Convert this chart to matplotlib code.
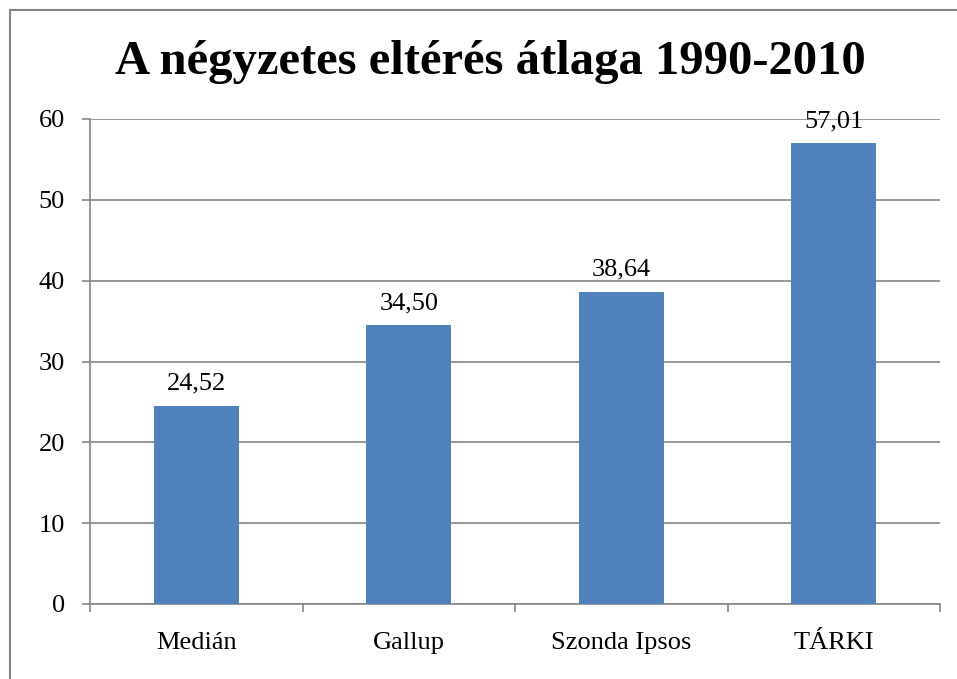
import matplotlib
matplotlib.use("Agg")
import matplotlib.pyplot as plt
from matplotlib.patches import Rectangle

categories = ["Medián", "Gallup", "Szonda Ipsos", "TÁRKI"]
values = [24.52, 34.50, 38.64, 57.01]
value_labels = ["24,52", "34,50", "38,64", "57,01"]
yticks = [0, 10, 20, 30, 40, 50, 60]

plt.rcParams['font.family'] = ['Liberation Serif', 'DejaVu Serif']

fig = plt.figure(figsize=(9.57, 6.79), dpi=100)
ax = fig.add_axes([90/957, 1-604/679, 850/957, 485/679])

x = list(range(len(categories)))
ax.bar(x, values, width=0.4, color="#4F81BD", zorder=3)
ax.set_xlim(-0.5, len(categories)-0.5)
ax.set_ylim(0, 60)
ax.set_yticks(yticks)
ax.set_yticklabels([str(t) for t in yticks], fontsize=19)
ax.set_xticks(x)
ax.set_xticklabels(categories, fontsize=19)
ax.tick_params(axis='x', length=0, pad=20)
ax.set_xticks([i - 0.5 for i in range(len(categories)+1)], minor=True)
ax.tick_params(axis='x', which='minor', length=6, color="#868686", width=1.2, direction='out')
ax.tick_params(axis='y', length=6, color="#868686", width=1.2, pad=12)
ax.grid(axis='y', color="#868686", linewidth=1.2, zorder=0)
for s in ['top', 'right']:
    ax.spines[s].set_visible(False)
for s in ['left', 'bottom']:
    ax.spines[s].set_color("#868686")
    ax.spines[s].set_linewidth(1.2)

for xi, v, lab in zip(x, values, value_labels):
    ax.annotate(lab, (xi, v), xytext=(0, 8), textcoords='offset points',
                ha='center', va='bottom', fontsize=19, zorder=4)

fig.text(490/957, 1-62/679, "A négyzetes eltérés átlaga 1990-2010",
         ha='center', va='center', fontsize=35, fontweight='bold')

fig.patches.append(Rectangle((10/957, -0.1), 1.2, 1-10/679+0.1, transform=fig.transFigure,
                             fill=False, edgecolor="#868686", linewidth=1.5))

fig.savefig("out.png", dpi=100)
